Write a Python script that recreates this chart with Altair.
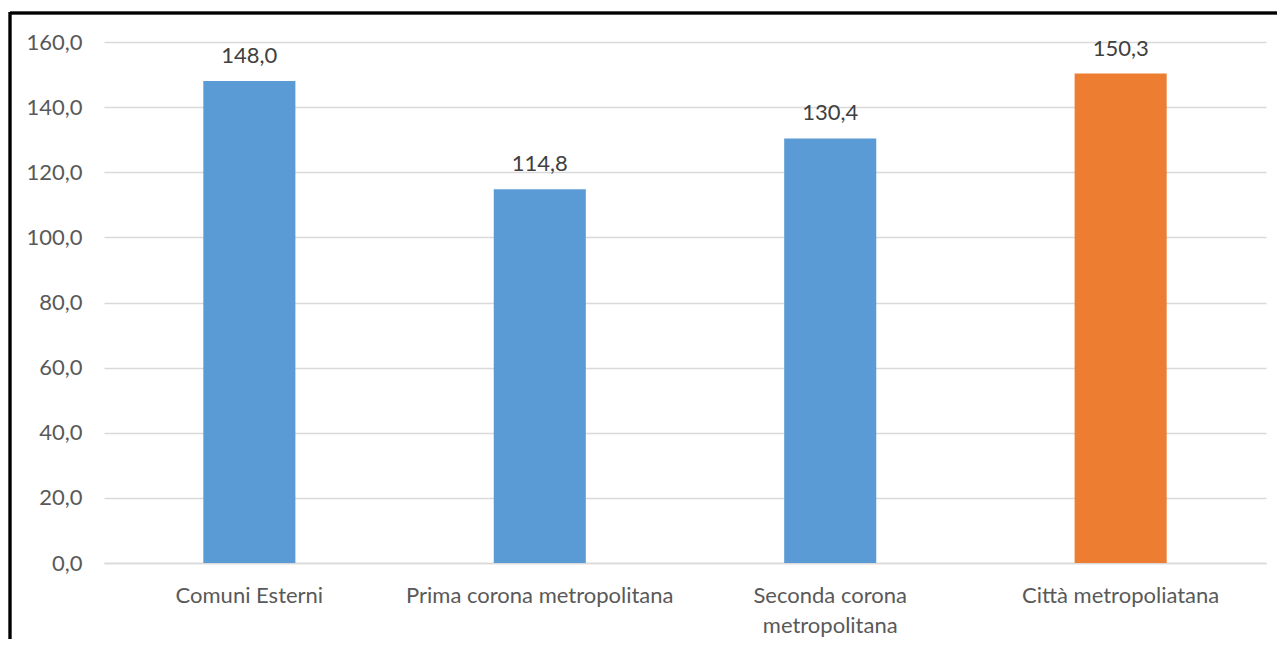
import altair as alt
import pandas as pd

categories = ["Comuni Esterni", "Prima corona metropolitana", "Seconda corona metropolitana", "Città metropoliatana"]
values = [148.0, 114.8, 130.4, 150.3]
colors = ["#5B9BD5", "#5B9BD5", "#5B9BD5", "#ED7D31"]
y_ticks = [0, 20, 40, 60, 80, 100, 120, 140, 160]

df = pd.DataFrame({"cat": categories, "val": values, "col": colors})
df["lab"] = [f"{v:.1f}".replace(".", ",") for v in values]

FONT = "Lato"
FS = 22
W, H = 1162, 521

x = alt.X("cat:N", sort=categories, title=None,
          scale=alt.Scale(paddingInner=0.683, paddingOuter=0.342),
          axis=alt.Axis(labelAngle=0, labelFont=FONT, labelFontSize=FS, labelColor="#595959",
                        labelPadding=22, ticks=False, domainColor="#d9d9d9", domainWidth=1.5,
                        labelLimit=400, labelLineHeight=30, grid=False,
                        labelExpr="datum.value == 'Seconda corona metropolitana' ? ['Seconda corona', 'metropolitana'] : datum.value"))
y = alt.Y("val:Q", title=None,
          scale=alt.Scale(domain=[0, 160], nice=False),
          axis=alt.Axis(values=y_ticks, labelFont=FONT, labelFontSize=FS, labelColor="#595959",
                        labelPadding=22, ticks=False, domain=False, gridColor="#d9d9d9", gridWidth=1.5,
                        labelExpr="replace(format(datum.value, '.1f'), '.', ',')"))

bars = alt.Chart(df).mark_bar().encode(x=x, y=y, color=alt.Color("col:N", scale=None))
text = alt.Chart(df).mark_text(dy=-25, font=FONT, fontSize=FS, color="#404040").encode(
    x=alt.X("cat:N", sort=categories), y="val:Q", text="lab:N")

border_top = alt.Chart(df).mark_rule(color="black", strokeWidth=2.5).encode(
    x=alt.value(-94), x2=alt.value(1300), y=alt.value(-29))
border_left = alt.Chart(df).mark_rule(color="black", strokeWidth=2.5).encode(
    x=alt.value(-94), y=alt.value(-30), y2=alt.value(700))

chart = alt.layer(bars, text, border_top, border_left).properties(
    width=W, height=H,
    autosize=alt.AutoSizeParams(type="none"),
    padding={"left": 96, "top": 34, "right": 11, "bottom": 76},
).configure(background="white").configure_view(stroke=None)

chart.save("out.html", embed_options={"renderer": "svg", "actions": False})
